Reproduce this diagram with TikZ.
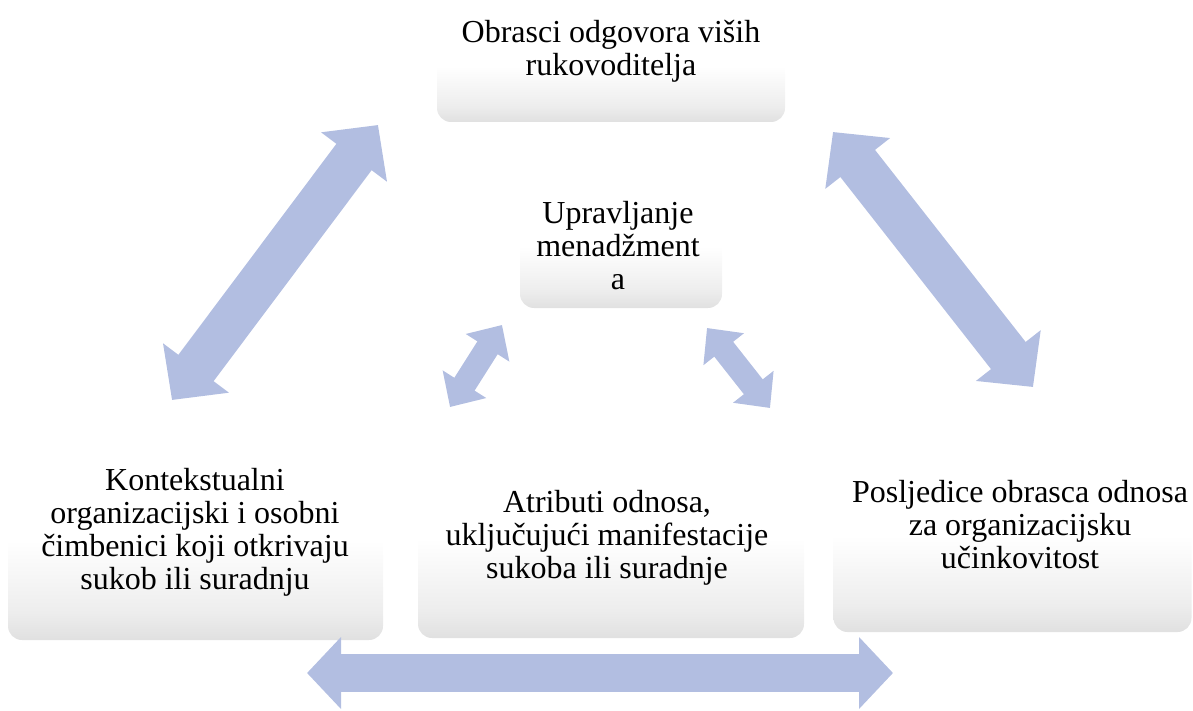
\documentclass[tikz,border=0pt]{standalone}
\usepackage{fontspec}
\setmainfont{Liberation Serif}
\usetikzlibrary{arrows.meta}

\pgfdeclareverticalshading{boxfade}{100bp}{color(0bp)=(black!12); color(25bp)=(black!12); color(32bp)=(black!7); color(50bp)=(white); color(100bp)=(white)}
\definecolor{arrowblue}{RGB}{178,190,225}

\tikzset{
  box/.style={rectangle, rounded corners=7pt, shade, shading=boxfade, inner sep=0pt},
  txt/.style={anchor=north, align=center, inner sep=0pt, font=\fontsize{16pt}{16.5pt}\selectfont},
  bigarrow/.style={arrowblue, line width=22pt, {Triangle[width=40pt,length=20pt]}-{Triangle[width=40pt,length=20pt]}},
  smallarrow/.style={arrowblue, line width=12pt, {Triangle[width=25pt,length=13.5pt]}-{Triangle[width=25pt,length=13.5pt]}},
  flatarrow/.style={arrowblue, line width=19pt, {Triangle[width=35pt,length=17pt]}-{Triangle[width=35pt,length=17pt]}}
}

\begin{document}
\begin{tikzpicture}[x=0.5pt,y=-0.5pt]
\useasboundingbox (0,0) rectangle (1193,711);

\node[box, minimum width=174pt, minimum height=56pt] (rukbox) at (611,66) {};
\node[box, minimum width=101pt, minimum height=61.5pt] (uprbox) at (621,246.5) {};
\node[box, minimum width=187.5pt, minimum height=100pt] (konbox) at (195.5,540) {};
\node[box, minimum width=193pt, minimum height=99pt] (atrbox) at (611,539) {};
\node[box, minimum width=179pt, minimum height=96pt] (posbox) at (1012.5,536) {};

\node[txt] (ruk) at (611,20) {Obrasci odgovora viših\\rukovoditelja};
\node[txt] (upr) at (618,201) {Upravljanje\\menadžment\\a};
\node[txt] (kon) at (195,468) {Kontekstualni\\organizacijski i osobni\\čimbenici koji otkrivaju\\sukob ili suradnju};
\node[txt] (atr) at (607,490) {Atributi odnosa,\\uključujući manifestacije\\sukoba ili suradnje};
\node[txt] (pos) at (1020,480) {Posljedice obrasca odnosa\\za organizacijsku\\učinkovitost};

\coordinate (kl) at (172,400);
\coordinate (kr) at (378,125);
\coordinate (pl) at (833,132);
\coordinate (pr) at (1033,387);
\coordinate (al) at (450,407);
\coordinate (ar) at (502,325);
\coordinate (bl) at (707,328);
\coordinate (br) at (770,408);
\coordinate (dl) at (307,673);
\coordinate (dr) at (893,673);

\draw[bigarrow] (kl) -- (kr);
\draw[bigarrow] (pl) -- (pr);
\draw[smallarrow] (al) -- (ar);
\draw[smallarrow] (bl) -- (br);
\draw[flatarrow] (dl) -- (dr);
\end{tikzpicture}
\end{document}
